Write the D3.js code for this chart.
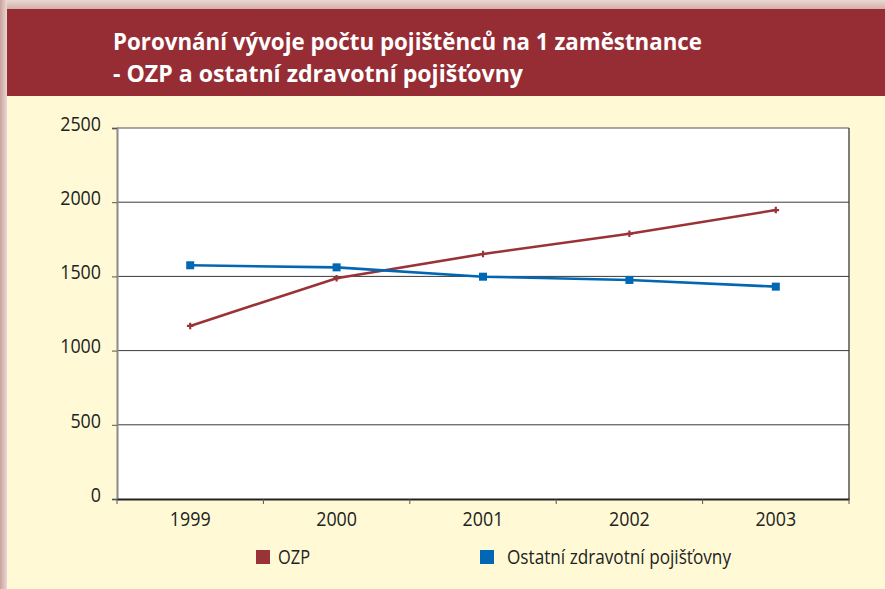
<!DOCTYPE html>
<html>
<head>
<meta charset="utf-8">
<script src="https://cdn.jsdelivr.net/npm/d3@7"></script>
<style>
  body { margin: 0; background: #fff; }
  svg { display: block; }
</style>
</head>
<body>
<svg id="chart" width="885" height="589"></svg>
<script>
// data
var years = ["1999", "2000", "2001", "2002", "2003"];
var ozp = [1166, 1488, 1651, 1787, 1947];
var ostatni = [1575, 1561, 1498, 1476, 1431];
var yTicks = [0, 500, 1000, 1500, 2000, 2500];
var seriesNames = ["OZP", "Ostatní zdravotní pojišťovny"];
var titleLines = ["Porovnání vývoje počtu pojištěnců na 1 zaměstnance",
                  "- OZP a ostatní zdravotní pojišťovny"];

var W = 885, H = 589;
var svg = d3.select('#chart');

// squeeze text a bit, the original font is a condensed one
function condense(sel, k) {
    sel.each(function () {
        var w = this.getComputedTextLength();
        d3.select(this).attr('textLength', w * k).attr('lengthAdjust', 'spacingAndGlyphs');
    });
}

// frame, shadow edge, header band
var defs = svg.append('defs');
var gl = defs.append('linearGradient').attr('id', 'shadeL')
    .attr('x1', 0).attr('x2', 1).attr('y1', 0).attr('y2', 0);
gl.append('stop').attr('offset', '0%').attr('stop-color', '#c9a29b');
gl.append('stop').attr('offset', '100%').attr('stop-color', '#ead8d3');
var gt = defs.append('linearGradient').attr('id', 'shadeT')
    .attr('x1', 0).attr('x2', 0).attr('y1', 0).attr('y2', 1);
gt.append('stop').attr('offset', '0%').attr('stop-color', '#ead8d3');
gt.append('stop').attr('offset', '100%').attr('stop-color', '#d2b0a8');

svg.append('rect').attr('width', W).attr('height', H).attr('fill', '#e6d2cd');
svg.append('rect').attr('x', 0).attr('y', 0).attr('width', W).attr('height', 9).attr('fill', 'url(#shadeT)');
svg.append('rect').attr('x', 0).attr('y', 0).attr('width', 7).attr('height', H).attr('fill', 'url(#shadeL)');
svg.append('rect').attr('x', 7).attr('y', 96).attr('width', W - 7).attr('height', H - 96).attr('fill', '#fffad5');
svg.append('rect').attr('x', 7).attr('y', 9).attr('width', W - 7).attr('height', 87).attr('fill', '#962d34');

svg.selectAll('text.title')
    .data(titleLines)
    .enter().append('text')
    .attr('class', 'title')
    .attr('x', 113)
    .attr('y', (d, i) => 50 + i * 32)
    .attr('fill', '#ffffff')
    .style('font-family', '"Open Sans", sans-serif')
    .style('font-weight', 'bold')
    .style('font-size', '24px')
    .attr('textLength', (d, i) => i == 0 ? 589 : 410)
    .attr('lengthAdjust', 'spacingAndGlyphs')
    .text(d => d);

// plot area
var plot = { left: 117, top: 128, right: 849, bottom: 499 };

var x = d3.scaleBand()
    .domain(years)
    .range([plot.left, plot.right]);

var y = d3.scaleLinear()
    .domain([0, 2500])
    .range([plot.bottom, plot.top]);

svg.append('rect')
    .attr('x', plot.left).attr('y', plot.top)
    .attr('width', plot.right - plot.left).attr('height', plot.bottom - plot.top)
    .attr('fill', '#ffffff');

// gridlines
svg.append('g')
    .selectAll('line')
    .data(yTicks.filter(d => d > 0))
    .enter().append('line')
    .attr('x1', plot.left).attr('x2', plot.right)
    .attr('y1', d => y(d)).attr('y2', d => y(d))
    .attr('stroke', d => d == 2500 ? '#8a8a8a' : '#3a3a3a')
    .attr('stroke-width', d => d == 2500 ? 1.5 : 1);

// right border
svg.append('line')
    .attr('x1', plot.right).attr('x2', plot.right)
    .attr('y1', plot.top).attr('y2', plot.bottom)
    .attr('stroke', '#2a2a2a').attr('stroke-width', 1.2);

var tickFont = '"Open Sans", sans-serif';

// y axis
var yAxis = svg.append('g')
    .attr('transform', 'translate(' + plot.left + ',0)')
    .call(d3.axisLeft(y).tickValues(yTicks).tickSize(5).tickPadding(11).tickFormat(d3.format('d')));
yAxis.select('.domain').attr('stroke', '#8a8a8a').attr('stroke-width', 2);
yAxis.selectAll('.tick line').attr('stroke', '#555');
yAxis.selectAll('text')
    .attr('fill', '#222')
    .style('font-family', tickFont)
    .style('font-size', '19.5px')
    .attr('dy', '0.12em')
    .call(condense, 0.915);

// x axis
var xAxis = svg.append('g')
    .attr('transform', 'translate(0,' + plot.bottom + ')')
    .call(d3.axisBottom(x).tickSize(0).tickPadding(13));
xAxis.select('.domain').attr('stroke', '#222').attr('stroke-width', 2);
xAxis.selectAll('text')
    .attr('fill', '#222')
    .style('font-family', tickFont)
    .style('font-size', '19.5px')
    .call(condense, 0.915);

// category boundary ticks
svg.append('g')
    .selectAll('line')
    .data(years.concat(['end']))
    .enter().append('line')
    .attr('x1', (d, i) => i < years.length ? x(d) : plot.right)
    .attr('x2', (d, i) => i < years.length ? x(d) : plot.right)
    .attr('y1', plot.bottom).attr('y2', plot.bottom + 5)
    .attr('stroke', '#555').attr('stroke-width', 1);

var cx = d => x(d) + x.bandwidth() / 2;
var line = d3.line()
    .x((d, i) => cx(years[i]))
    .y(d => y(d));

var red = '#993338', blue = '#0067b4';

// OZP line
svg.append('path')
    .datum(ozp)
    .attr('d', line)
    .attr('fill', 'none')
    .attr('stroke', red)
    .attr('stroke-width', 2.6);
svg.append('g')
    .selectAll('path')
    .data(ozp)
    .enter().append('path')
    .attr('d', d3.symbol().type(d3.symbolCross).size(24))
    .attr('transform', (d, i) => 'translate(' + cx(years[i]) + ',' + y(d) + ')')
    .attr('fill', red);

// ostatni line
svg.append('path')
    .datum(ostatni)
    .attr('d', line)
    .attr('fill', 'none')
    .attr('stroke', blue)
    .attr('stroke-width', 2.6);
svg.append('g')
    .selectAll('rect')
    .data(ostatni)
    .enter().append('rect')
    .attr('x', (d, i) => cx(years[i]) - 4)
    .attr('y', d => y(d) - 4)
    .attr('width', 8).attr('height', 8)
    .attr('fill', blue);

// legend
var legendX = [256, 480];
var legendW = [32, 224];
var leg = svg.append('g')
    .selectAll('g')
    .data(seriesNames)
    .enter().append('g')
    .attr('transform', (d, i) => 'translate(' + legendX[i] + ',550)');
leg.append('rect')
    .attr('width', 14).attr('height', 14)
    .attr('fill', (d, i) => i == 0 ? red : blue);
leg.append('text')
    .attr('x', (d, i) => i == 0 ? 22 : 27)
    .attr('y', 14)
    .attr('fill', '#222')
    .style('font-family', tickFont)
    .style('font-size', '19.5px')
    .attr('textLength', (d, i) => legendW[i])
    .attr('lengthAdjust', 'spacingAndGlyphs')
    .text(d => d);
</script>
</body>
</html>
